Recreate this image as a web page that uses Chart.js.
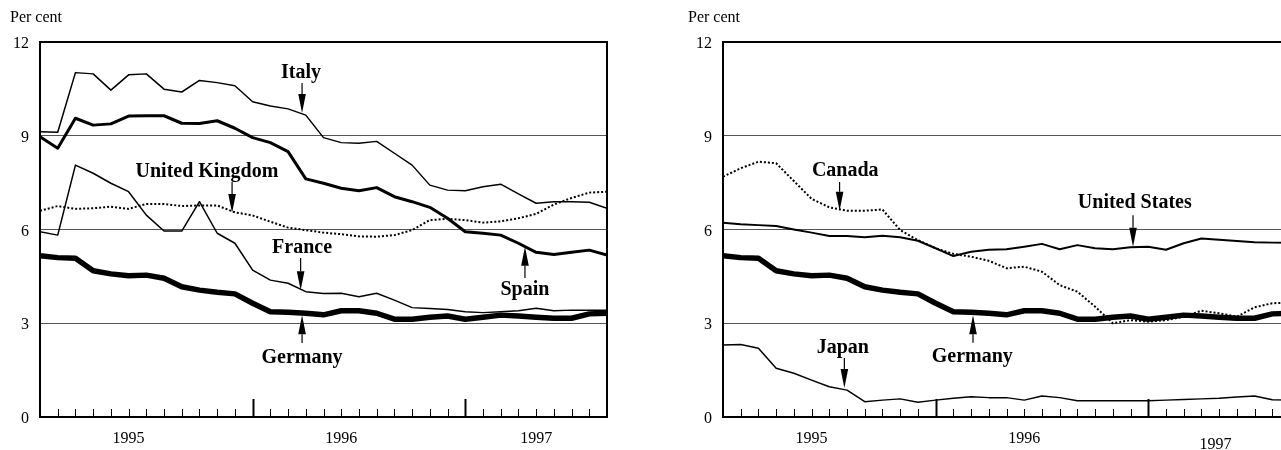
<!DOCTYPE html>
<html><head><meta charset="utf-8">
<script src="https://cdn.jsdelivr.net/npm/chart.js@4/dist/chart.umd.min.js"></script>
<style>
html,body{margin:0;padding:0;background:#fff;overflow:hidden;width:1281px;height:450px;position:relative}
.panel{position:absolute;top:0;height:450px;width:640px}
#p1{left:0}
#p2{left:683px}
canvas{display:block}
</style></head><body>
<div class="panel" id="p1"><canvas id="c1" width="640" height="450"></canvas></div>
<div class="panel" id="p2"><canvas id="c2" width="640" height="450"></canvas></div>
<script>
// Monthly observations, Jan 1995 - Sep 1997
const months = ['1995-01','1995-02','1995-03','1995-04','1995-05','1995-06','1995-07','1995-08','1995-09','1995-10','1995-11','1995-12',
  '1996-01','1996-02','1996-03','1996-04','1996-05','1996-06','1996-07','1996-08','1996-09','1996-10','1996-11','1996-12',
  '1997-01','1997-02','1997-03','1997-04','1997-05','1997-06','1997-07','1997-08','1997-09'];

const italy   = [9.13, 9.11, 11.02, 10.98, 10.46, 10.95, 10.98, 10.49, 10.40, 10.77, 10.70, 10.60, 10.09, 9.95, 9.86, 9.66, 8.94, 8.78, 8.76, 8.82, 8.44, 8.06, 7.42, 7.26, 7.24, 7.37, 7.45, 7.14, 6.84, 6.89, 6.89, 6.87, 6.68];
const spain   = [8.97, 8.60, 9.56, 9.34, 9.38, 9.63, 9.64, 9.64, 9.40, 9.39, 9.48, 9.24, 8.94, 8.78, 8.49, 7.62, 7.48, 7.32, 7.24, 7.34, 7.05, 6.89, 6.71, 6.36, 5.93, 5.88, 5.82, 5.56, 5.27, 5.20, 5.27, 5.34, 5.18];
const uk      = [6.60, 6.75, 6.66, 6.68, 6.73, 6.66, 6.82, 6.82, 6.75, 6.77, 6.77, 6.55, 6.45, 6.25, 6.06, 5.98, 5.90, 5.85, 5.78, 5.77, 5.82, 5.98, 6.30, 6.34, 6.30, 6.22, 6.26, 6.36, 6.50, 6.80, 7.01, 7.18, 7.21];
const france  = [5.93, 5.82, 8.06, 7.80, 7.48, 7.21, 6.46, 5.95, 5.95, 6.89, 5.88, 5.56, 4.70, 4.38, 4.28, 4.01, 3.95, 3.96, 3.85, 3.96, 3.74, 3.50, 3.47, 3.44, 3.37, 3.34, 3.37, 3.40, 3.48, 3.40, 3.42, 3.42, 3.42];
const germany = [5.16, 5.10, 5.08, 4.68, 4.58, 4.52, 4.54, 4.44, 4.17, 4.06, 3.99, 3.94, 3.64, 3.37, 3.35, 3.32, 3.27, 3.40, 3.40, 3.32, 3.13, 3.13, 3.19, 3.23, 3.13, 3.19, 3.26, 3.23, 3.19, 3.16, 3.16, 3.30, 3.32];
const usa     = [6.22, 6.17, 6.14, 6.11, 6.00, 5.90, 5.79, 5.79, 5.75, 5.80, 5.75, 5.64, 5.40, 5.15, 5.29, 5.35, 5.37, 5.45, 5.54, 5.37, 5.50, 5.40, 5.37, 5.43, 5.45, 5.35, 5.56, 5.71, 5.67, 5.63, 5.59, 5.58, 5.58];
const canada  = [7.69, 7.96, 8.17, 8.12, 7.55, 6.98, 6.71, 6.60, 6.60, 6.64, 5.98, 5.66, 5.40, 5.22, 5.13, 5.00, 4.76, 4.81, 4.65, 4.22, 4.01, 3.53, 3.00, 3.10, 3.05, 3.10, 3.21, 3.40, 3.32, 3.21, 3.51, 3.64, 3.66];
const japan   = [2.30, 2.32, 2.20, 1.56, 1.40, 1.18, 0.97, 0.86, 0.49, 0.54, 0.58, 0.47, 0.54, 0.60, 0.65, 0.62, 0.62, 0.54, 0.67, 0.62, 0.52, 0.52, 0.52, 0.52, 0.52, 0.54, 0.56, 0.58, 0.60, 0.64, 0.67, 0.55, 0.54];

// Axis labels
const yTickValues = [0, 3, 6, 9, 12];
const yearLabels = ['1995', '1996', '1997'];
const yearTickPosLeft = [5, 17, 28];
const yearTickPosRight = [5, 17, 27.8];
const yearStartIdx = [12, 24];
const unitLabel = 'Per cent';

const SERIF = '"Liberation Serif", "Times New Roman", serif';

function series(arr) { return arr.map((v, i) => ({ x: i, y: v })); }

function lineDs(label, arr, width, dash) {
  return { label, data: series(arr), borderColor: '#000', borderWidth: width,
    borderDash: dash || [], pointRadius: 0, tension: 0, fill: false,
    borderJoinStyle: 'round', borderCapStyle: dash ? 'butt' : 'round' };
}

const decorPlugin = {
  id: 'decor',
  afterDraw(chart) {
    const { ctx, chartArea: a, scales: { x, y } } = chart;
    const o = chart.options.plugins.decor;
    ctx.save();
    // top & right frame
    ctx.strokeStyle = '#000'; ctx.lineWidth = 2;
    ctx.beginPath();
    ctx.moveTo(a.left - 1, a.top); ctx.lineTo(a.right, a.top); ctx.lineTo(a.right, a.bottom + 1);
    ctx.stroke();
    // month ticks
    for (let i = 1; i < months.length - 1; i++) {
      const px = Math.round(x.getPixelForValue(i)) + 0.5;
      const major = yearStartIdx.includes(i);
      ctx.lineWidth = major ? 2 : 1;
      ctx.beginPath();
      ctx.moveTo(px, a.bottom);
      ctx.lineTo(px, a.bottom - (major ? 18 : 8));
      ctx.stroke();
    }
    // unit label
    ctx.fillStyle = '#000';
    ctx.font = '16px ' + SERIF;
    ctx.textAlign = 'left'; ctx.textBaseline = 'middle';
    ctx.fillText(unitLabel, o.unitX, 18);
    // annotations
    ctx.font = 'bold 20px ' + SERIF;
    ctx.textAlign = 'center';
    for (const an of o.notes) {
      ctx.fillText(an.text, x.getPixelForValue(an.x), y.getPixelForValue(an.y));
      const ax = x.getPixelForValue(an.ax);
      const y0 = y.getPixelForValue(an.from), y1 = y.getPixelForValue(an.to);
      const dir = Math.sign(y1 - y0), head = 19, hw = 3.8;
      ctx.lineWidth = 1.2;
      ctx.beginPath(); ctx.moveTo(ax, y0); ctx.lineTo(ax, y1 - dir * head); ctx.stroke();
      ctx.beginPath();
      ctx.moveTo(ax, y1); ctx.lineTo(ax - hw, y1 - dir * head); ctx.lineTo(ax + hw, y1 - dir * head);
      ctx.closePath(); ctx.fill();
    }
    ctx.restore();
  }
};

function makeChart(id, datasets, notes, yearPos, unitX, lowLast) {
  return new Chart(document.getElementById(id), {
    type: 'line',
    data: { datasets },
    plugins: [decorPlugin],
    options: {
      responsive: false, animation: false, devicePixelRatio: 1,
      layout: { padding: { top: 42, right: 33, left: 0, bottom: 0 } },
      plugins: { legend: { display: false }, tooltip: { enabled: false },
        decor: { notes, unitX } },
      scales: {
        x: {
          type: 'linear', min: 0, max: months.length - 1,
          afterBuildTicks: s => { s.ticks = yearPos.map(v => ({ value: v })); },
          afterFit: s => { s.height = 33; },
          grid: { display: false, drawTicks: false },
          border: { display: true, color: '#000', width: 2 },
          ticks: { color: '#000', padding: 12, maxRotation: 0, autoSkip: false,
            font: c => ({ family: SERIF, size: 16, lineHeight: (lowLast && c.index === 2) ? 2.0 : 1.2 }),
            callback: (v, i) => yearLabels[i] }
        },
        y: {
          min: 0, max: 12,
          afterBuildTicks: s => { s.ticks = yTickValues.map(v => ({ value: v })); },
          afterFit: s => { s.width = 40; },
          grid: { color: '#555', lineWidth: 1, drawTicks: false },
          border: { display: true, color: '#000', width: 2 },
          ticks: { color: '#000', padding: 11, labelOffset: 2, font: { family: SERIF, size: 16 } }
        }
      }
    }
  });
}

makeChart('c1', [
  lineDs('Italy', italy, 1.5),
  lineDs('Spain', spain, 3),
  lineDs('United Kingdom', uk, 2, [2, 2]),
  lineDs('France', france, 1.5),
  lineDs('Germany', germany, 5.5)
], [
  { text: 'Italy', x: 14.73, y: 11.01, ax: 14.79, from: 10.69, to: 9.73 },
  { text: 'United Kingdom', x: 9.42, y: 7.84, ax: 10.84, from: 7.52, to: 6.53 },
  { text: 'France', x: 14.79, y: 5.41, ax: 14.71, from: 5.09, to: 4.06 },
  { text: 'Germany', x: 14.79, y: 1.89, ax: 14.79, from: 2.37, to: 3.26 },
  { text: 'Spain', x: 27.37, y: 4.06, ax: 27.37, from: 4.45, to: 5.45 }
], yearTickPosLeft, 10, false);

makeChart('c2', [
  lineDs('Canada', canada, 2, [2, 2]),
  lineDs('United States', usa, 2),
  lineDs('Germany', germany, 5.5),
  lineDs('Japan', japan, 1.5)
], [
  { text: 'Canada', x: 6.9, y: 7.87, ax: 6.58, from: 7.52, to: 6.6 },
  { text: 'United States', x: 23.24, y: 6.85, ax: 23.14, from: 6.46, to: 5.45 },
  { text: 'Japan', x: 6.76, y: 2.21, ax: 6.85, from: 1.89, to: 0.93 },
  { text: 'Germany', x: 14.07, y: 1.93, ax: 14.11, from: 2.38, to: 3.26 }
], yearTickPosRight, 5, true);
</script>
</body></html>
